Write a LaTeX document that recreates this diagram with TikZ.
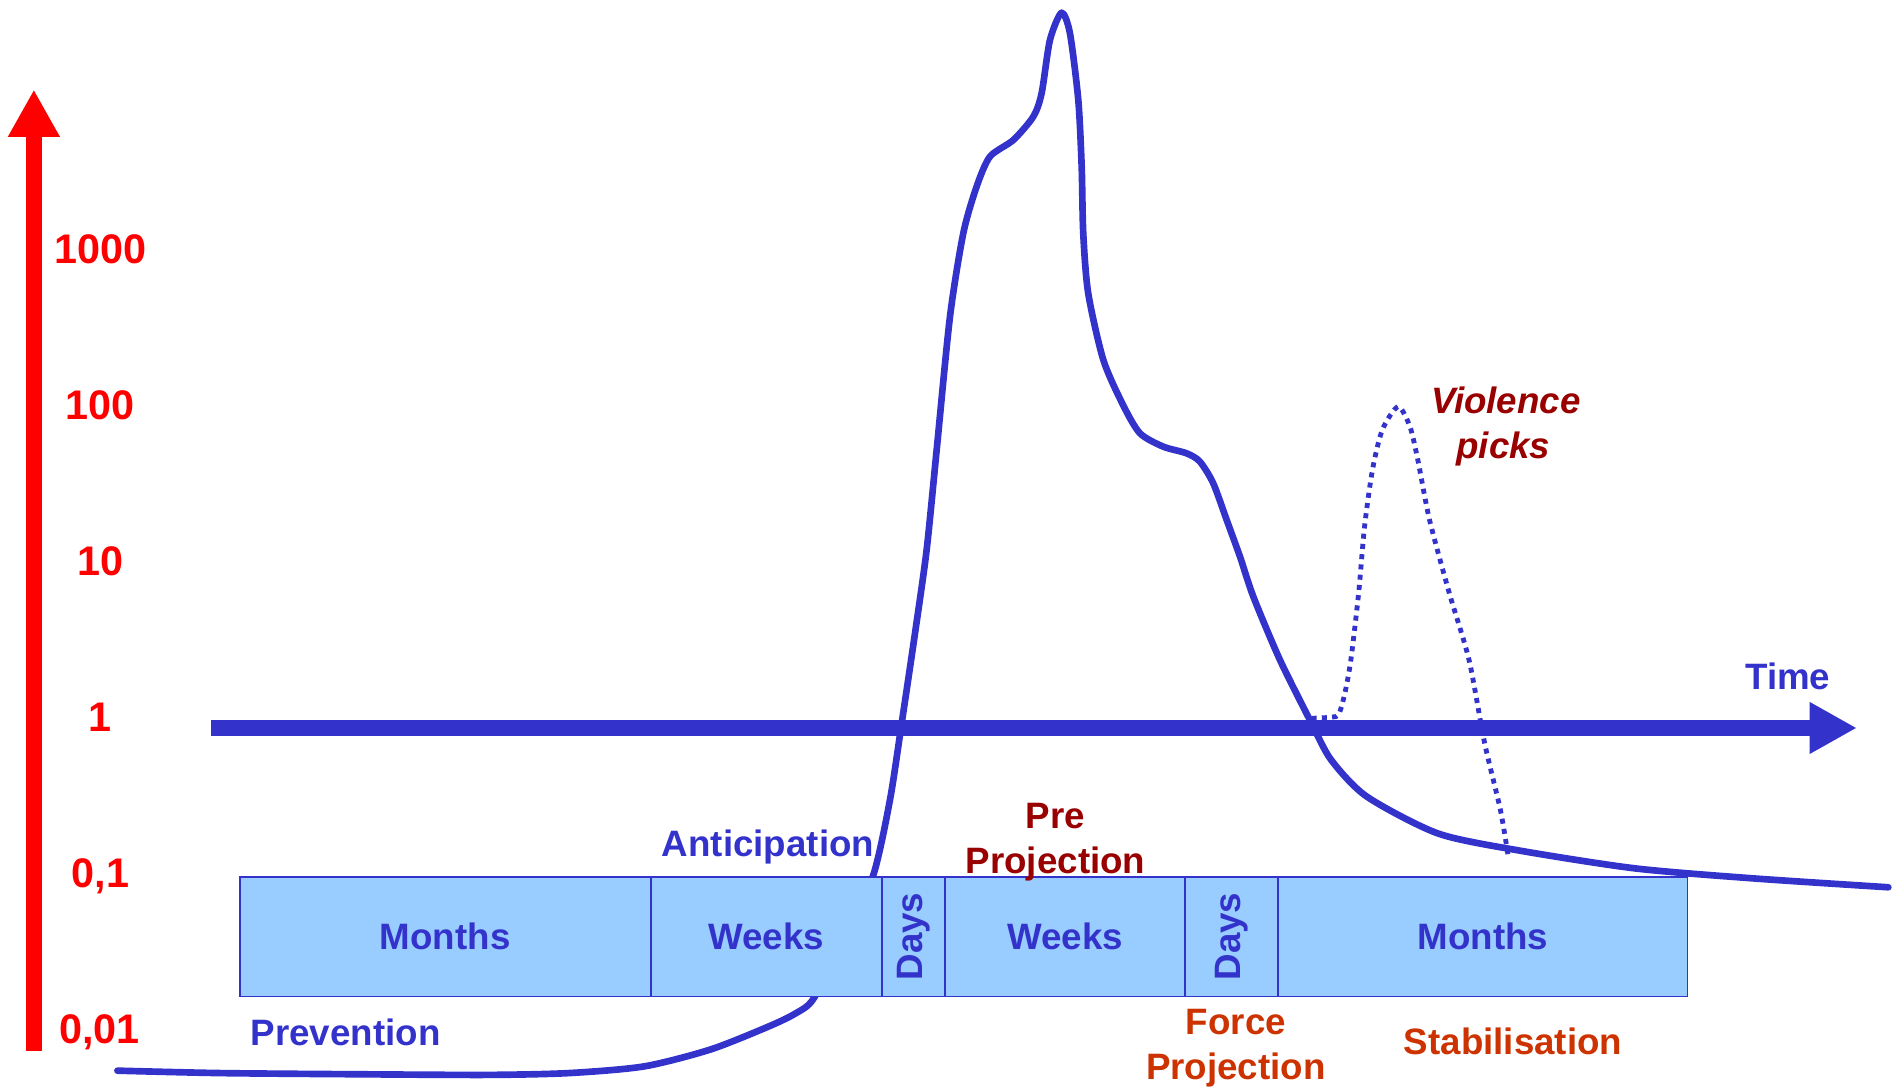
\documentclass[tikz,border=0pt]{standalone}
\usepackage{fontspec}
\setmainfont{Liberation Sans}
\usepackage{graphicx}
\usetikzlibrary{arrows.meta}
\definecolor{cblue}{HTML}{3333CC}
\definecolor{cfill}{HTML}{99CCFF}
\definecolor{cred}{HTML}{FF0000}
\definecolor{cdark}{HTML}{990000}
\definecolor{corange}{HTML}{CC3300}
\begin{document}
\begin{tikzpicture}[x=0.6pt,y=-0.6pt,
  bfont/.style={font=\fontsize{18.2}{22}\selectfont\bfseries},
  lbl/.style={bfont, text height=13pt, text depth=0pt, inner sep=0pt},
  num/.style={font=\fontsize{20.5}{24}\selectfont\bfseries, text=cred, text height=14.7pt, text depth=0pt, inner sep=0pt},
  seg/.style={draw=cblue, fill=cfill, line width=0.9pt, inner sep=0pt, minimum height=59.4pt, text=cblue},
  wseg/.style={seg, lbl},
  curve/.style={draw=cblue, line width=3.3pt, line join=round, line cap=round},
  dotcurve/.style={draw=cblue, line width=2.4pt, dash pattern=on 2.5pt off 2.6pt},
  axisarrow/.style={line width=7.8pt, -{Triangle[length=23.4pt,width=24pt]}}]
\useasboundingbox (0,0) rectangle (1568,898);

% axes
\coordinate (yb) at (28,868);
\coordinate (yt) at (28,74);
\draw[axisarrow, cred] (yb) -- (yt);
\coordinate (xb) at (174,601.4);
\coordinate (xt) at (1534,601.4);
\draw[axisarrow, cblue] (xb) -- (xt);

% scale labels
\node[num] (n1000) at (83,205.5) {1000};
\node[num] (n100) at (83,334.3) {100};
\node[num] (n10) at (83,463.1) {10};
\node[num] (n1) at (83,591.9) {1};
\node[num] (n01) at (83,720.7) {0,1};
\node[num] (n001) at (82,849.5) {0,01};

% main curve
\draw[curve] plot[smooth, tension=0.45] coordinates {
 (97,884.5) (182,886.5) (300,887.5) (403,888) (470,886.5) (532,881) (587,867) (635,848) (657.6,837) (672.3,824.7)
 (698,775) (721.5,722.8) (735.2,660.9) (744.9,597.5) (755.9,523.2) (765.5,454.4) (773.8,371.7) (784.8,261.6)
 (795.8,192.7) (806.8,154.2) (817.8,129.4) (837.1,115.7) (853.6,96.4) (860.5,77.1) (867.4,33) (877,10.5)
 (883.9,27.5) (890.8,82.6) (893.6,137.7) (894.9,192.7) (899,242.3) (911.5,297.4) (928,335) (941.8,358)
 (961,369) (980.3,374.5) (991.3,381.4) (1002.3,399.3) (1013.4,429.6) (1024.4,459.9) (1035.4,492.9) (1057.4,545.2)
 (1083.5,597.5) (1099.7,627.8) (1129,658) (1187.5,688.4) (1252.5,702.2) (1350,717.3) (1447.6,725.6) (1560,733)};

% violence pick (dotted)
\draw[dotcurve] plot[smooth, tension=0.45] coordinates {
 (1083.5,593.4) (1100,592.5) (1106,590) (1111,572.8) (1116,545) (1122.4,490) (1127.3,435) (1133.8,388.3)
 (1142,355) (1155,336) (1164.8,352.5) (1171.3,380) (1181,429.6) (1197.3,490) (1213.6,545.2) (1226.5,614)
 (1239.5,669) (1246,707.7)};

% time-scale bar
\node[wseg, minimum width=203.76pt] (m1) at (367.8,773.75) {Months};
\node[wseg, minimum width=114.54pt] (w1) at (633.05,773.75) {Weeks};
\node[seg, bfont, minimum width=31.5pt] (d1) at (754.75,773.75) {\rotatebox{90}{Days}};
\node[wseg, minimum width=118.62pt] (w2) at (879.85,773.75) {Weeks};
\node[seg, bfont, minimum width=46.38pt] (d2) at (1017.35,773.75) {\rotatebox{90}{Days}};
\node[wseg, minimum width=202.8pt] (m2) at (1225,773.75) {Months};

% phase labels
\node[lbl, text=cblue] (prev) at (285.5,853) {Prevention};
\node[lbl, text=cblue] (antic) at (634.5,697) {Anticipation};
\node[lbl, text=cdark] (pre1) at (872,674) {Pre};
\node[lbl, text=cdark] (pre2) at (872,711) {Projection};
\node[lbl, text=corange] (force1) at (1021,844) {Force};
\node[lbl, text=corange] (force2) at (1021,881) {Projection};
\node[lbl, text=corange] (stab) at (1250,860) {Stabilisation};
\node[lbl, text=cdark, font=\fontsize{18.2}{22}\selectfont\bfseries\itshape] (viol1) at (1244,331) {Violence};
\node[lbl, text=cdark, font=\fontsize{18.2}{22}\selectfont\bfseries\itshape] (viol2) at (1242,368) {picks};
\node[lbl, text=cblue] (time) at (1477,559) {Time};
\end{tikzpicture}
\end{document}
